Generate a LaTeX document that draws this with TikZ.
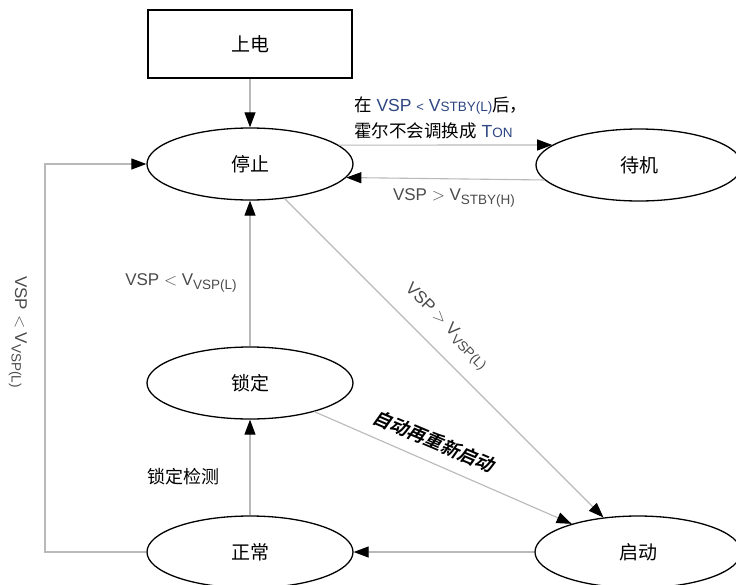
\documentclass[tikz,border=0pt]{standalone}
\usepackage{fontspec}
\setmainfont{Liberation Sans}
\newfontfamily\cjk{Noto Sans CJK SC}
\newfontfamily\cjkbi{Noto Sans CJK SC Bold}[FakeSlant=0.22]
\usetikzlibrary{shapes.geometric,arrows.meta}
\definecolor{linegray}{RGB}{185,185,185}
\definecolor{labgray}{RGB}{75,75,75}
\definecolor{topblue}{RGB}{45,70,130}
\newcommand{\mysub}[1]{\raisebox{-3.5pt}{\fontsize{13.5}{13.5}\selectfont #1}}
\tikzset{
  state/.style={ellipse,draw=black,line width=1.3pt,minimum width=206pt,minimum height=72pt,inner sep=0pt,
    font=\cjk\fontsize{19}{19}\selectfont},
  startbox/.style={rectangle,draw=black,line width=1.8pt,minimum width=204pt,minimum height=68pt,inner sep=0pt,
    font=\cjk\fontsize{19}{19}\selectfont},
  conn/.style={draw=linegray,line width=1.1pt,-{Triangle[length=15pt,width=11pt,color=black]}},
  lab/.style={text=labgray,font=\fontsize{17}{17}\selectfont,inner sep=0pt},
  cjklab/.style={text=black,font=\cjk\fontsize{18}{18}\selectfont,inner sep=0pt},
}
\begin{document}
\begin{tikzpicture}[x=1pt,y=1pt]
\useasboundingbox (0,0) rectangle (736,-584);
\fill[white] (0,0) rectangle (736,-584);

\node[startbox] (power) at (250,-44) {上电};
\node[state] (stop) at (250,-164) {停止};
\node[state] (standby) at (639,-165) {待机};
\node[state] (lock) at (250,-383) {锁定};
\node[state] (normal) at (250,-552) {正常};
\node[state] (start) at (638,-552) {启动};
\coordinate (lc) at (45,-552);

\draw[conn] (power) -- (stop);
\draw[conn] (stop.12.5) -- (standby.167.5);
\draw[conn] (standby.-171.5) -- (stop.-8.4);
\draw[conn] (lock) -- (stop);
\draw[conn] (normal) -- (lock);
\draw[conn] (start) -- (normal);
\draw[conn] (normal.west) -- (lc) |- (stop.west);
\draw[conn] (stop.-45) -- (start.135);
\draw[conn] (lock.-24.7) -- (start.157);

\node[anchor=west,align=left,inner sep=0pt,font=\fontsize{17.5}{26}\selectfont] (toplab) at (354,-118)
  {{\cjk 在} \textcolor{topblue}{VSP {\fontsize{13}{13}\selectfont<} V{\fontsize{13.5}{13.5}\selectfont STBY(L)}}{\cjk 后，}\\
   {\cjk 霍尔不会调换成} \textcolor{topblue}{T{\fontsize{13.5}{13.5}\selectfont ON}}};
\node[lab] (lab2) at (454,-198) {VSP $>$ V\mysub{STBY(H)}};
\node[lab] (lab3) at (181,-283) {VSP $<$ V\mysub{VSP(L)}};
\node[lab,rotate=-90] (lab4) at (18,-332) {VSP $<$ V\mysub{VSP(L)}};
\node[lab,rotate=-45] (lab5) at (446,-327) {VSP $>$ V\mysub{VSP(L)}};
\node[cjklab] (lab6) at (183,-477) {锁定检测};
\node[inner sep=0pt,rotate=-23,font=\cjkbi\fontsize{18.5}{18.5}\selectfont] (lab7) at (434,-441) {自动再重新启动};
\end{tikzpicture}
\end{document}
